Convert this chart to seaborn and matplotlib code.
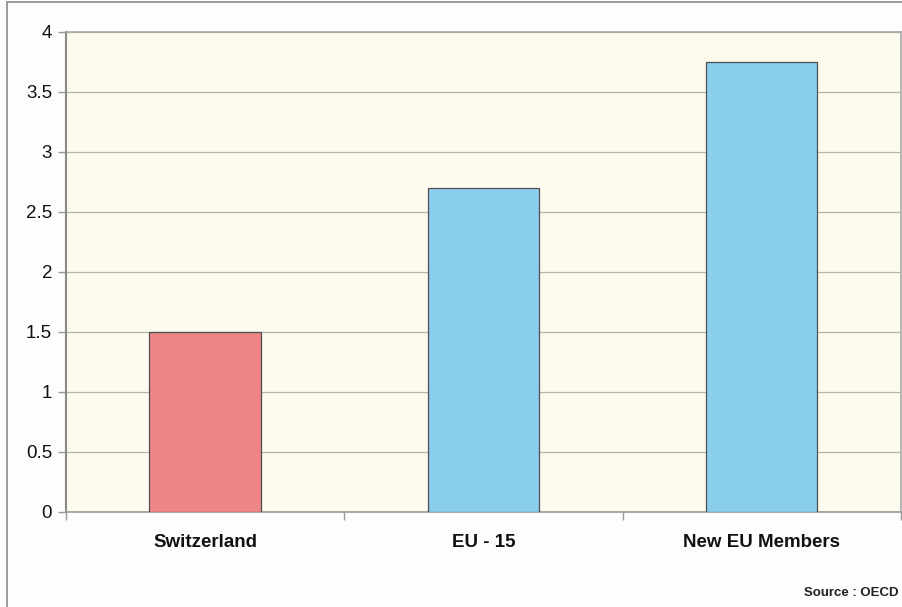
import numpy as np
import pandas as pd
import matplotlib
matplotlib.use('Agg')
import matplotlib.pyplot as plt
import seaborn as sns
from matplotlib.patches import Rectangle

regions = ['Switzerland', 'EU - 15', 'New EU Members']
values = [1.5, 2.7, 3.75]
bar_colors = ['#EE8587', '#89CEEC']
y_ticks = [0, 0.5, 1, 1.5, 2, 2.5, 3, 3.5, 4]
y_tick_labels = ['0', '0.5', '1', '1.5', '2', '2.5', '3', '3.5', '4']

df = pd.DataFrame({'region': regions, 'value': values})
palette = {regions[0]: bar_colors[0], regions[1]: bar_colors[1], regions[2]: bar_colors[1]}

sns.set_style('white')
plt.rcParams['font.family'] = ['Liberation Sans', 'DejaVu Sans']

fig = plt.figure(figsize=(9.03, 6.07), dpi=100)
fig.patch.set_facecolor('#FDFDFD')
# outer chart frame
fig.patches.append(Rectangle((7 / 903, -0.05), 2, 1.05 - 1.5 / 607, transform=fig.transFigure,
                             fill=False, edgecolor='#8A8A8A', linewidth=1.2, zorder=0))

ax = fig.add_axes([66 / 903, 95 / 607, 835 / 903, 480 / 607])
ax.set_facecolor('#FDFBEE')

sns.barplot(data=df, x='region', y='value', hue='region', palette=palette, width=0.4,
            edgecolor='#4F4F4F', linewidth=0.9, saturation=1, legend=False, ax=ax, zorder=3)

ax.set_xlim(-0.5, 2.5)
ax.set_ylim(0, 4)
ax.set_yticks(y_ticks)
ax.set_yticklabels(y_tick_labels, fontsize=13.5)
ax.yaxis.grid(True, color='#B5B5AA', linewidth=0.9, zorder=0)
ax.set_axisbelow(True)

ax.set_xticks(range(len(regions)))
ax.set_xticklabels(regions, fontsize=13.5, fontweight='bold', color='#111111')
ax.tick_params(axis='x', which='major', bottom=False, length=0, pad=16)
ax.set_xticks([-0.5, 0.5, 1.5, 2.5], minor=True)
ax.tick_params(axis='x', which='minor', bottom=True, length=6, color='#9A9A9A', width=1)
ax.tick_params(axis='y', left=True, length=6, color='#9A9A9A', width=1, pad=4,
               labelcolor='#111111')

for side in ['top', 'right']:
    ax.spines[side].set_color('#A8A8A8')
    ax.spines[side].set_linewidth(1.2)
ax.spines['left'].set_color('#8A8A8A')
ax.spines['left'].set_linewidth(1.5)
ax.spines['bottom'].set_color('#9A9A9A')
ax.spines['bottom'].set_linewidth(1.2)

ax.set_xlabel('')
ax.set_ylabel('')

fig.text(899 / 903, 1 - 593 / 607, 'Source : OECD', ha='right', va='center',
         fontsize=9.5, fontweight='bold', color='#222222')

fig.savefig('out.png', dpi=100, facecolor=fig.get_facecolor())
